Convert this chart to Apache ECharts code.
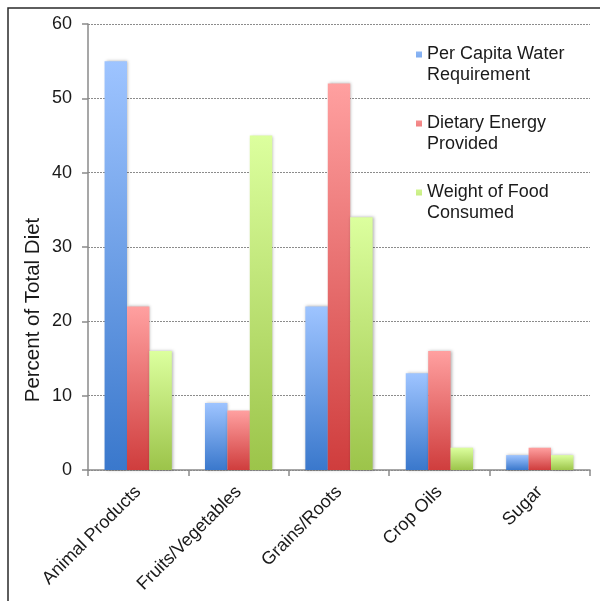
<!DOCTYPE html>
<html>
<head>
<meta charset="utf-8">
<script src="https://cdn.jsdelivr.net/npm/echarts@6/dist/echarts.min.js"></script>
<style>
html,body{margin:0;padding:0;background:#fff;}
#chart{width:600px;height:601px;}
</style>
</head>
<body>
<div id="chart"></div>
<script>
var categories = ['Animal Products', 'Fruits/Vegetables', 'Grains/Roots', 'Crop Oils', 'Sugar'];
var waterRequirement = [55, 9, 22, 13, 2];
var dietaryEnergy = [22, 8, 52, 16, 3];
var foodWeight = [16, 45, 34, 3, 2];
var seriesNames = ['Per Capita Water\nRequirement', 'Dietary Energy\nProvided', 'Weight of Food\nConsumed'];
var yTicks = {min: 0, max: 60, interval: 10};
var yTitle = 'Percent of Total Diet';

var FONT = '"Liberation Sans", Arial, sans-serif';
function grad(top, bottom) {
  return new echarts.graphic.LinearGradient(0, 0, 0, 1, [
    {offset: 0, color: top}, {offset: 1, color: bottom}
  ]);
}
var colors = [grad('#9ec4ff', '#3a78cc'), grad('#ffa0a0', '#cf3d3d'), grad('#dcff9e', '#9cc44a')];
var dataSets = [waterRequirement, dietaryEnergy, foodWeight];

// small square aligned with the first text line (tiny invisible anchors set the box height)
var legendIcon = 'path://M0,0h0.01v0.01h-0.01z M0,7.5h6v6h-6z M0,41.99h0.01v0.01h-0.01z';

var chart = echarts.init(document.getElementById('chart'));
chart.setOption({
  animation: false,
  backgroundColor: '#fff',
  graphic: [
    {type: 'rect', shape: {x: 8, y: 8, width: 700, height: 700}, style: {fill: 'none', stroke: '#2a2a2a', lineWidth: 1.5}, silent: true},
    {type: 'text', x: 33, y: 310, rotation: Math.PI / 2,
     style: {text: yTitle, font: '20.5px ' + FONT, fill: '#1a1a1a', align: 'center', verticalAlign: 'middle'}}
  ],
  grid: {left: 88, right: 10, top: 24, bottom: 131, containLabel: false},
  legend: {
    orient: 'vertical', left: 416, top: 44, padding: 0,
    icon: legendIcon, itemWidth: 6, itemHeight: 42, itemGap: 27,
    textStyle: {fontFamily: FONT, fontSize: 18, color: '#1a1a1a', lineHeight: 21},
    data: seriesNames
  },
  xAxis: {
    type: 'category', data: categories,
    axisLine: {lineStyle: {color: '#8a8a8a', width: 1.5}},
    axisTick: {show: true, alignWithLabel: false, length: 6, lineStyle: {color: '#8a8a8a', width: 1.5}},
    axisLabel: {rotate: 45, fontFamily: FONT, fontSize: 18, color: '#1a1a1a', margin: 19, interval: 0}
  },
  yAxis: {
    type: 'value', min: yTicks.min, max: yTicks.max, interval: yTicks.interval,
    axisLine: {show: true, lineStyle: {color: '#8a8a8a', width: 1.5}},
    axisTick: {show: true, length: 6, lineStyle: {color: '#8a8a8a', width: 1.5}},
    axisLabel: {fontFamily: FONT, fontSize: 18, color: '#1a1a1a', margin: 16},
    splitLine: {show: true, lineStyle: {color: '#8c8c8c', type: [2, 1], width: 1}}
  },
  series: seriesNames.map(function (name, i) {
    return {
      name: name, type: 'bar', data: dataSets[i],
      barGap: '0%', barCategoryGap: '33%',
      itemStyle: {color: colors[i], shadowColor: 'rgba(0,0,0,0.3)', shadowBlur: 3, shadowOffsetX: 1, shadowOffsetY: 0}
    };
  })
});
</script>
</body>
</html>
